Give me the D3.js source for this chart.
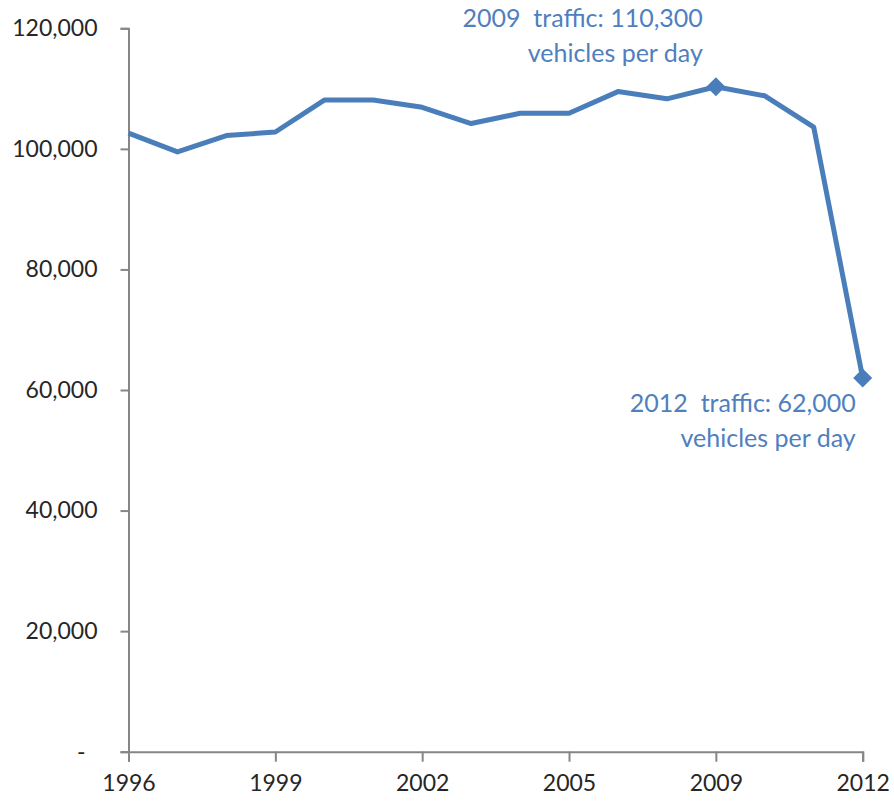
<!DOCTYPE html>
<html>
<head>
<meta charset="utf-8">
<script src="https://cdn.jsdelivr.net/npm/d3@7"></script>
<style>
  body { margin: 0; background: #fff; }
  svg text { font-family: Lato, "Open Sans", sans-serif; }
</style>
</head>
<body>
<div id="chart"></div>
<script>
// data
var years = ["1996","1997","1998","1999","2000","2001","2002","2003","2004","2005","2006","2008","2009","2010","2011","2012"];
var traffic = [102600, 99500, 102200, 102800, 108100, 108100, 106900, 104200, 105900, 105900, 109500, 108300, 110300, 108800, 103600, 62000];
var yTicks = [0, 20000, 40000, 60000, 80000, 100000, 120000];
var xLabels = ["1996","1999","2002","2005","2009","2012"];
var notes = [
  {year: "2009", lines: ["2009  traffic: 110,300", "vehicles per day"]},
  {year: "2012", lines: ["2012  traffic: 62,000", "vehicles per day"]}
];

var width = 894, height = 801;
var margin = {top: 28.3, right: 31.3, bottom: 49.3, left: 128.5};
var blue = "#4a7ebb", axisGrey = "#868686", labelCol = "#262626";

var svg = d3.select("#chart").append("svg")
  .attr("width", width)
  .attr("height", height);

var x = d3.scalePoint()
  .domain(years)
  .range([margin.left, width - margin.right]);

var y = d3.scaleLinear()
  .domain([0, 120000])
  .range([height - margin.bottom, margin.top]);

var fmt = function(v){ return v === 0 ? "-" : d3.format(",")(v); };

// y axis
var yAxis = svg.append("g")
  .attr("transform", "translate(" + margin.left + ",0)")
  .call(d3.axisLeft(y).tickValues(yTicks).tickFormat(fmt).tickSize(8).tickPadding(23));
yAxis.select(".domain").attr("stroke", axisGrey).attr("stroke-width", 2);
yAxis.selectAll(".tick line").attr("stroke", axisGrey).attr("stroke-width", 2);
yAxis.selectAll(".tick text")
  .attr("fill", labelCol)
  .style("font-size", "23px")
  .attr("dx", function(d){ return d === 0 ? -12 : 0; });

// x axis
var xAxis = svg.append("g")
  .attr("transform", "translate(0," + (height - margin.bottom) + ")")
  .call(d3.axisBottom(x).tickValues(xLabels).tickSize(10).tickPadding(13));
xAxis.select(".domain").attr("stroke", axisGrey).attr("stroke-width", 2);
xAxis.selectAll(".tick line").attr("stroke", axisGrey).attr("stroke-width", 2);
xAxis.selectAll(".tick text")
  .attr("fill", labelCol)
  .style("font-size", "23px");

// the line
var line = d3.line()
  .x(function(d, i){ return x(years[i]); })
  .y(function(d){ return y(d); });

svg.append("path")
  .datum(traffic)
  .attr("d", line)
  .attr("fill", "none")
  .attr("stroke", blue)
  .attr("stroke-width", 5)
  .attr("stroke-linejoin", "round");

// diamond markers on the labelled points
var diamond = d3.symbol().type(d3.symbolDiamond2).size(230);
svg.selectAll(".marker")
  .data(notes)
  .enter()
  .append("path")
  .attr("class", "marker")
  .attr("d", diamond)
  .attr("fill", blue)
  .attr("transform", function(d){
    var i = years.indexOf(d.year);
    return "translate(" + x(d.year) + "," + y(traffic[i]) + ")";
  });

// annotations
var noteOffsets = {"2009": {dx: -13, dy: [-60, -25]}, "2012": {dx: -7, dy: [34, 69]}};
notes.forEach(function(n){
  var i = years.indexOf(n.year);
  var px = x(n.year), py = y(traffic[i]);
  var o = noteOffsets[n.year];
  var t = svg.append("text")
    .attr("text-anchor", "end")
    .attr("fill", "#4f7fbf")
    .style("font-size", "25px");
  n.lines.forEach(function(l, k){
    t.append("tspan")
      .attr("x", px + o.dx)
      .attr("y", py + o.dy[k])
      .attr("xml:space", "preserve")
      .text(l);
  });
});
</script>
</body>
</html>
